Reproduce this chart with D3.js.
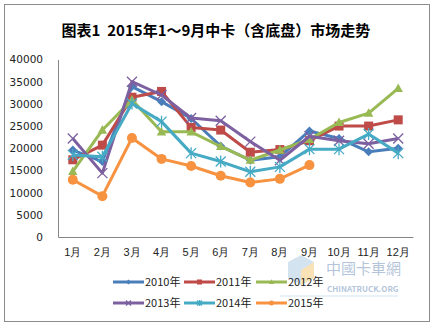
<!DOCTYPE html>
<html><head><meta charset="utf-8">
<script src="https://cdn.jsdelivr.net/npm/d3@7/dist/d3.min.js"></script>
<style>body{margin:0;background:#fff;}svg{display:block;font-family:"Noto Sans CJK SC","DejaVu Sans",sans-serif;}</style>
</head><body><svg id="c" width="434" height="326"></svg>
<script>
const months = ["1月","2月","3月","4月","5月","6月","7月","8月","9月","10月","11月","12月"];
const seriesNames = ["2010年","2011年","2012年","2013年","2014年","2015年"];
const v2010 = [19600,17000,33900,30500,26700,20500,17300,18100,23900,22200,19200,20000];
const v2011 = [17400,20700,31500,32800,24700,24100,19100,19700,21700,25000,25000,26400];
const v2012 = [14800,24100,30900,23700,23700,20400,17300,19600,22000,25800,27900,33500];
const v2013 = [22200,14400,35000,32000,26800,26200,21500,17300,22700,21700,21000,22200];
const v2014 = [18500,18100,30100,26000,18900,17000,14700,15800,19800,19800,23200,18900];
const v2015 = [12900,9200,22300,17600,16000,13800,12300,13100,16200];
const yTicks = [0,5000,10000,15000,20000,25000,30000,35000,40000];
const values = [v2010,v2011,v2012,v2013,v2014,v2015];
const colors = ["#4A7EBB","#BE4B48","#98B954","#7D60A0","#46AAC5","#F69240"];
const shapes = ["diamond","square","triangle","x","asterisk","circle"];

const svg = d3.select("#c");
svg.append("rect").attr("x",4.5).attr("y",4.5).attr("width",425).attr("height",317)
  .attr("fill","#fff").attr("stroke","#8c8c8c").attr("stroke-width",1);

svg.append("text").attr("x",216).attr("y",36).attr("text-anchor","middle")
  .attr("font-size",15).attr("font-weight","bold").attr("fill","#000")
  .style("white-space","pre")
  .text("图表1  2015年1～9月中卡（含底盘）市场走势");

const x = d3.scaleBand().domain(months).range([58,413]).padding(0);
const y = d3.scaleLinear().domain([0,40000]).range([237,59.5]);

const yAxis = svg.append("g").attr("transform","translate(58,0)")
  .call(d3.axisLeft(y).tickValues(yTicks).tickSize(0).tickPadding(15).tickFormat(d3.format("d")));
yAxis.select(".domain").attr("stroke","#868686");
yAxis.selectAll("text").attr("font-size",10.5).attr("fill","#222").attr("font-family","'DejaVu Sans',sans-serif");

const xAxis = svg.append("g").attr("transform","translate(0,237)")
  .call(d3.axisBottom(x).tickSize(0).tickPadding(11));
xAxis.select(".domain").attr("stroke","#868686");
xAxis.selectAll("text").attr("font-size",11).attr("fill","#222");

function marker(g, shape, color, s){
  if(shape==="diamond"){
    g.append("path").attr("d",`M0,${-s}L${s},0L0,${s}L${-s},0Z`).attr("fill",color);
  } else if(shape==="square"){
    g.append("rect").attr("x",-s).attr("y",-s).attr("width",2*s).attr("height",2*s).attr("fill",color);
  } else if(shape==="triangle"){
    g.append("path").attr("d",`M0,${-s*1.1}L${s*1.05},${s*0.8}L${-s*1.05},${s*0.8}Z`).attr("fill",color);
  } else if(shape==="x"){
    g.append("path").attr("d",`M${-s},${-s}L${s},${s}M${s},${-s}L${-s},${s}`).attr("stroke",color).attr("stroke-width",1.3);
  } else if(shape==="asterisk"){
    g.append("path").attr("d",`M${-s},${-s}L${s},${s}M${s},${-s}L${-s},${s}M0,${-s*1.2}L0,${s*1.2}`).attr("stroke",color).attr("stroke-width",1.3);
  } else {
    g.append("circle").attr("r",s).attr("fill",color);
  }
}

const line = d3.line().x((d,i)=>x(months[i])+x.bandwidth()/2).y(d=>y(d));
const sizes = [4.5,4.5,4.5,5,5,5];
values.forEach((vals,k)=>{
  svg.append("path").datum(vals).attr("d",line).attr("fill","none")
    .attr("stroke",colors[k]).attr("stroke-width",3).attr("stroke-linejoin","round");
  vals.forEach((v,i)=>{
    const g = svg.append("g").attr("transform",`translate(${x(months[i])+x.bandwidth()/2},${y(v)})`);
    marker(g, shapes[k], colors[k], sizes[k]);
  });
});

// watermark (behind legend)
const wm = svg.append("g").attr("opacity",0.45);
wm.append("path").attr("d","M288,262 L301,255 L314,262 L314,278 L301,285 L288,278Z").attr("fill","#9ec3e0");
wm.append("path").attr("d","M301,270 L314,262 L314,278 L301,285Z").attr("fill","#f0c060");
wm.append("text").attr("x",326).attr("y",274).attr("font-size",15).attr("fill","#5a7fb0").attr("font-family","'Noto Sans CJK TC',sans-serif").text("中國卡車網");
wm.append("text").attr("x",327).attr("y",292).attr("font-size",8).attr("fill","#5a7fb0").attr("font-weight","bold").text("CHINATRUCK.ORG");
wm.append("line").attr("x1",280).attr("x2",398).attr("y1",296).attr("y2",296).attr("stroke","#9ec3e0");

// legend
const legPos = [[113,282],[184,282],[256,282],[113,303],[184,303],[256,303]];
seriesNames.forEach((n,k)=>{
  const [lx,ly] = legPos[k];
  svg.append("line").attr("x1",lx).attr("x2",lx+31).attr("y1",ly).attr("y2",ly)
    .attr("stroke",colors[k]).attr("stroke-width",3);
  const g = svg.append("g").attr("transform",`translate(${lx+15.5},${ly})`);
  marker(g, shapes[k], colors[k], 2.5);
  svg.append("text").attr("x",lx+32).attr("y",ly+4).attr("font-size",11).attr("fill","#222").text(n);
});
</script></body></html>
